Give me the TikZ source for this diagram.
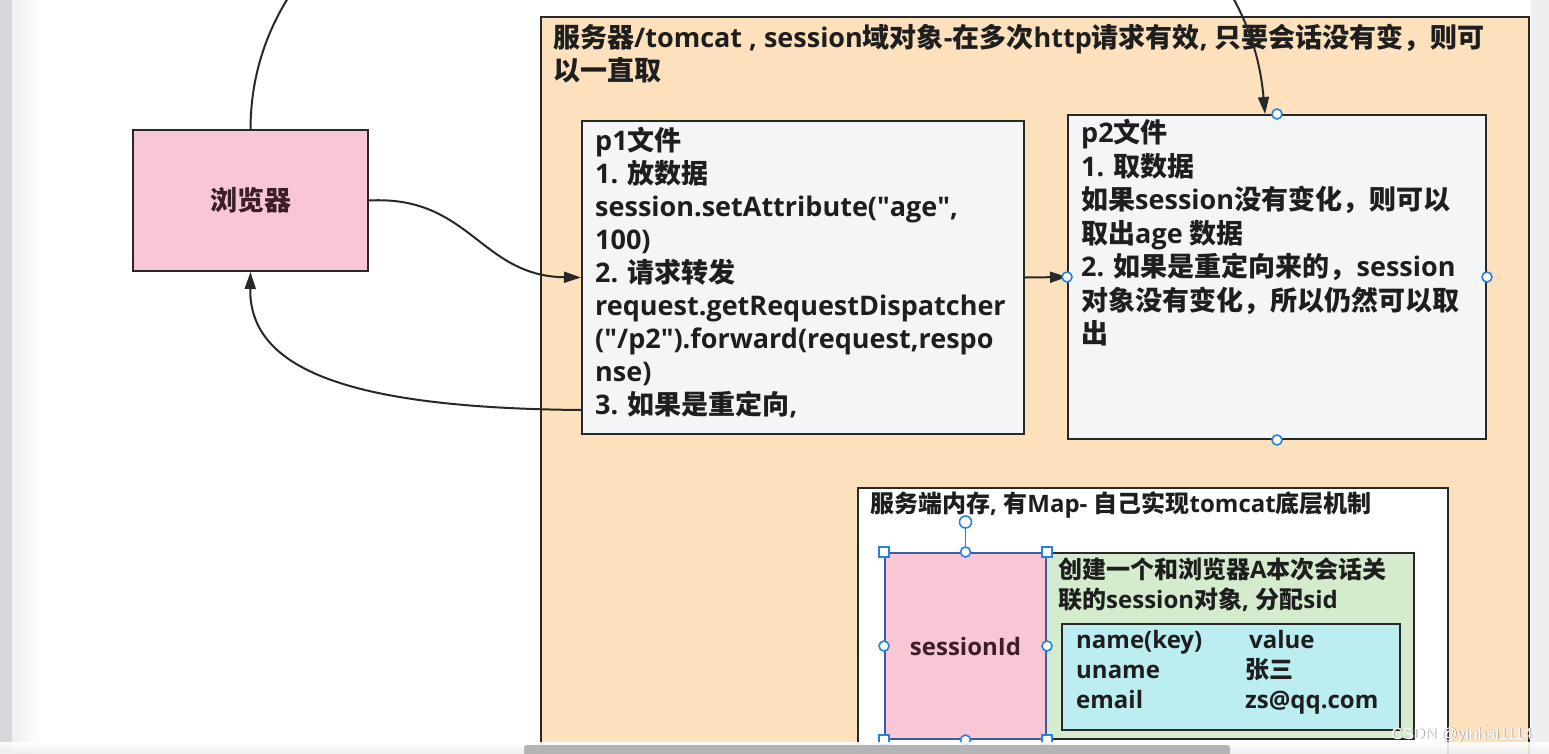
\documentclass[tikz,border=0pt]{standalone}
\usepackage{fontspec}
\setmainfont{Open Sans}
\newfontfamily\latinfont{Open Sans}
\newfontfamily\qfont{Open Sans}[Ligatures=TeXOff]
\newfontfamily\cjkfont{Noto Sans CJK SC}
\newfontfamily\wmfont{Liberation Sans}
\newcommand\sq{{\qfont\char"22}}
\usetikzlibrary{arrows.meta,calc}
\XeTeXinterchartokenstate=1
\newXeTeXintercharclass\CJKcls
\newcount\cjkc
\cjkc="2E80
\loop \XeTeXcharclass\cjkc=\CJKcls \advance\cjkc by 1 \ifnum\cjkc<"A000 \repeat
\cjkc="FF00
\loop \XeTeXcharclass\cjkc=\CJKcls \advance\cjkc by 1 \ifnum\cjkc<"FFF0 \repeat
\XeTeXinterchartoks 0 \CJKcls = {\cjkfont}
\XeTeXinterchartoks 4095 \CJKcls = {\cjkfont}
\XeTeXinterchartoks \CJKcls 0 = {\latinfont}
\XeTeXinterchartoks \CJKcls 4095 = {\latinfont}
\definecolor{srv}{RGB}{252,225,188}
\definecolor{pinkb}{RGB}{249,198,214}
\definecolor{pfill}{RGB}{244,245,246}
\definecolor{greenb}{RGB}{213,235,205}
\definecolor{cyanb}{RGB}{187,237,241}
\definecolor{edge}{RGB}{40,40,40}
\definecolor{txt}{RGB}{30,30,30}
\definecolor{maroonc}{RGB}{60,30,40}
\definecolor{hblue}{RGB}{40,130,220}
\definecolor{selb}{RGB}{60,90,165}
\definecolor{leftg}{RGB}{214,215,218}
\definecolor{sideg}{RGB}{238,239,241}
\definecolor{scrollg}{RGB}{180,180,182}
\begin{document}
\begin{tikzpicture}[x=1pt,y=-1pt,
  box/.style={draw=edge, line width=2pt, inner sep=0pt, anchor=north west},
  lbl/.style={inner sep=0pt, anchor=north west, align=left, text=txt},
  bigf/.style={font={\fontsize{27}{33}\selectfont\bfseries}},
  bigfb/.style={font={\fontsize{27}{33.5}\selectfont\bfseries}},
  midf/.style={font={\fontsize{24}{29.5}\selectfont\bfseries}},
  conn/.style={draw=edge, line width=2pt, -{Triangle[length=17pt,width=11pt]}},
  hcirc/.style={circle, draw=hblue, fill=white, line width=1.6pt, minimum size=10pt, inner sep=0pt},
  hsq/.style={rectangle, draw=hblue, fill=white, line width=1.6pt, minimum size=10pt, inner sep=0pt}]
\useasboundingbox (0,0) rectangle (1549,753);
\clip (0,0) rectangle (1549,753);
\fill[white] (0,0) rectangle (1549,753);
\fill[leftg] (0,0) rectangle (12,753);
\shade[left color=sideg, right color=white] (12,0) rectangle (42,753);
\fill[sideg] (1531,0) rectangle (1549,753);

% server box
\node[box, fill=srv, minimum width=988pt, minimum height=800pt] (srv) at (540,16) {};
\node[lbl, bigf] (srvt) at (553,24) {服务器/tomcat , session域对象-在多次http请求有效, 只要会话没有变，则可\\以一直取};

% browser
\node[box, fill=pinkb, minimum width=235pt, minimum height=141pt] (br) at (132,129) {};
\node[inner sep=0pt, text=maroonc, font={\fontsize{27}{30}\selectfont\bfseries}] (brt) at (br.center) {浏览器};

% p1
\node[box, fill=pfill, minimum width=442pt, minimum height=313pt] (p1) at (581,120) {};
\node[lbl, bigf] (p1t) at (595,127) {p1文件\\1. 放数据\\session.setAttribute(\sq age\sq,\\100)\\2. 请求转发\\request.getRequestDispatcher\\(\sq/p2\sq).forward(request,respo\\nse)\\3. 如果是重定向,};

% p2
\node[box, fill=pfill, minimum width=418pt, minimum height=324pt] (p2) at (1067,114) {};
\node[lbl, bigfb] (p2t) at (1081,119) {p2文件\\1. 取数据\\如果session没有变化，则可以\\取出age 数据\\2. 如果是重定向来的，session\\对象没有变化，所以仍然可以取\\出};

% memory
\node[box, fill=white, minimum width=590pt, minimum height=400pt] (mem) at (857,487) {};
\node[lbl, font={\fontsize{24}{28}\selectfont\bfseries}] (memt) at (870,491) {服务端内存, 有Map- 自己实现tomcat底层机制};

% green session object
\node[box, fill=greenb, minimum width=368pt, minimum height=186pt] (obj) at (1045,552) {};
\node[lbl, midf] (objt) at (1058,558) {创建一个和浏览器A本次会话关\\联的session对象, 分配sid};
\node[box, fill=cyanb, minimum width=338pt, minimum height=106pt] (map) at (1061,623) {};
\node[lbl, font={\fontsize{24}{30}\selectfont\bfseries}] (keys) at (1076,630) {name(key)\\uname\\email};
\node[lbl, font={\fontsize{24}{30}\selectfont\bfseries}] (vals) at (1245,630) {\,value\\张三\\zs@qq.com};

% sessionId (selected)
\node[draw=selb, fill=pinkb, line width=2pt, inner sep=0pt, anchor=north west, minimum width=161pt, minimum height=186pt] (sid) at (884,552) {};
\node[inner sep=0pt, text=maroonc, font={\fontsize{24}{28}\selectfont\bfseries}] (sidt) at (sid.center) {sessionId};

% connectors
\draw[conn] (br.east) .. controls (470,195) and (480,276) .. (p1.west);
\draw[conn] ($(p1.south west)+(0,-25)$) .. controls (350,408) and (249,370) .. (br.south);
\draw[conn] (p1.east) -- (p2.west);
\draw[conn] (br.north) .. controls (252,-290) and ($(p2.north)+(-50,-430)$) .. ($(p2.north)+(-12,0)$);

% selection handles on p2
\node[hcirc] (p2hn) at (p2.north) {};
\node[hcirc] (p2hw) at (p2.west) {};
\node[hcirc] (p2he) at (p2.east) {};
\node[hcirc] (p2hs) at (p2.south) {};

% selection handles on sessionId
\node[hcirc, minimum size=12pt] (rot) at ($(sid.north)+(0,-30)$) {};
\draw[hblue, line width=1.6pt] (rot.south) -- (sid.north);
\node[hsq] (s1) at (sid.north west) {};
\node[hsq] (s2) at (sid.north east) {};
\node[hsq] (s3) at (sid.south west) {};
\node[hsq] (s4) at (sid.south east) {};
\node[hcirc] (s5) at (sid.north) {};
\node[hcirc] (s6) at (sid.south) {};
\node[hcirc] (s7) at (sid.west) {};
\node[hcirc] (s8) at (sid.east) {};

% bottom strip and scrollbar
\shade[top color=white, bottom color=sideg, opacity=0.9] (0,742) rectangle (1549,753);
\fill[scrollg, rounded corners=3pt] (524,745) rectangle (1230,756);

% watermark
\node[inner sep=0pt, text=gray!70, font={\wmfont\fontsize{16}{18}\selectfont}] (wms) at (1462.8,735.8) {CSDN @yinhai1114};
\node[inner sep=0pt, text=white, font={\wmfont\fontsize{16}{18}\selectfont}] (wm) at (1462,735) {CSDN @yinhai1114};
\end{tikzpicture}
\end{document}
